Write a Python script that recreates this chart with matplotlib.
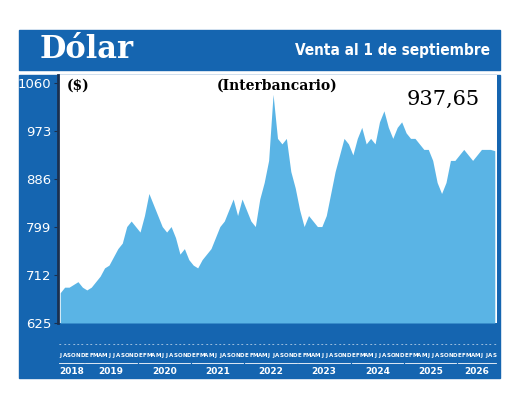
import matplotlib.pyplot as plt
import matplotlib.patches as patches
import matplotlib.transforms as mtransforms
import numpy as np

# valores mensuales, julio 2018 - septiembre 2026
valores = [680, 690, 690, 695, 700, 690,
           685, 690, 700, 710, 725, 730, 745, 760, 770, 800, 810, 800,
           790, 820, 860, 840, 820, 800, 790, 800, 780, 750, 760, 740,
           730, 725, 740, 750, 760, 780, 800, 810, 830, 850, 820, 850,
           830, 810, 800, 850, 880, 920, 1040, 960, 950, 960, 900, 870,
           830, 800, 820, 810, 800, 800, 820, 860, 900, 930, 960, 950,
           930, 960, 980, 950, 960, 950, 990, 1010, 980, 960, 980, 990,
           970, 960, 960, 950, 940, 940, 920, 880, 860, 880, 920, 920,
           930, 940, 930, 920, 930, 940, 940, 940, 937.65]
anios = ['2018', '2019', '2020', '2021', '2022', '2023', '2024', '2025', '2026']
meses_ini = ['E', 'F', 'M', 'A', 'M', 'J', 'J', 'A', 'S', 'O', 'N', 'D']
y_ticks = [625, 712, 799, 886, 973, 1060]
ultimo = '937,65'

azul = '#1565b0'
celeste = '#5ab4e5'

fig = plt.figure(figsize=(5.2, 4), dpi=100)
# banner y marco azul
fig.patches.append(patches.Rectangle((19/520, 1-70/400), 481/520, 40/400, transform=fig.transFigure,
                                     color=azul, zorder=-2))
fig.patches.append(patches.Rectangle((19/520, 1-378/400), 481/520, 303/400, transform=fig.transFigure,
                                     color=azul, zorder=-2))
fig.text(40/520, 1-50/400, 'Dólar', color='white', fontsize=22, fontweight='bold', family='DejaVu Serif', va='center')
fig.text(490/520, 1-50/400, 'Venta al 1 de septiembre', color='white', fontsize=11, fontweight='bold',
         family='DejaVu Sans', fontstretch='condensed', ha='right', va='center')

ax = fig.add_axes([58/520, 1-323/400, 439/520, 248/400], zorder=5)
x = np.arange(len(valores))
ax.fill_between(x, 625, valores, color=celeste, lw=0)
ax.set_xlim(-0.5, len(valores) - 0.5)
ax.set_ylim(625, 1075)
ax.set_facecolor('white')
for s in ax.spines.values():
    s.set_visible(False)
ax.spines['left'].set_visible(True)
ax.spines['left'].set_color('#1a3050')
ax.spines['left'].set_linewidth(2)
ax.set_xticks([])
ax.set_yticks(y_ticks)
ax.set_yticklabels([str(v) for v in y_ticks], color='white', fontsize=9.5)
ax.tick_params(axis='y', length=3, color='#1a3050', pad=2)

ax.text(0.02, 0.985, '($)', transform=ax.transAxes, fontsize=10, fontweight='bold', family='DejaVu Serif', va='top')
ax.text(0.5, 0.985, '(Interbancario)', transform=ax.transAxes, fontsize=10, fontweight='bold',
        family='DejaVu Serif', ha='center', va='top')
ax.text(0.96, 0.94, ultimo, transform=ax.transAxes, fontsize=15, family='DejaVu Serif', ha='right', va='top')

# letras de meses y años bajo el gráfico
trans = mtransforms.blended_transform_factory(ax.transData, ax.transAxes)
meses = [meses_ini[(6 + i) % 12] for i in range(len(valores))]
for i, m in enumerate(meses):
    ax.text(i, -0.13, m, transform=trans, color='white', fontsize=4, fontweight='bold',
            ha='center', va='center', clip_on=False)
    ax.text(i, -0.085, '-', transform=trans, color='white', fontsize=5, ha='center', va='center', clip_on=False)
inicio = 0
for k, a in enumerate(anios):
    n = 6 if k == 0 else 12
    fin = min(inicio + n, len(valores)) - 1
    ax.plot([inicio - 0.3, fin + 0.3], [-0.16, -0.16], transform=trans, color='white', lw=0.6, clip_on=False)
    ax.text((inicio + fin) / 2, -0.195, a, transform=trans, color='white', fontsize=6.5, fontweight='bold',
            ha='center', va='center', clip_on=False)
    inicio += n

fig.savefig('out.png', dpi=100)
